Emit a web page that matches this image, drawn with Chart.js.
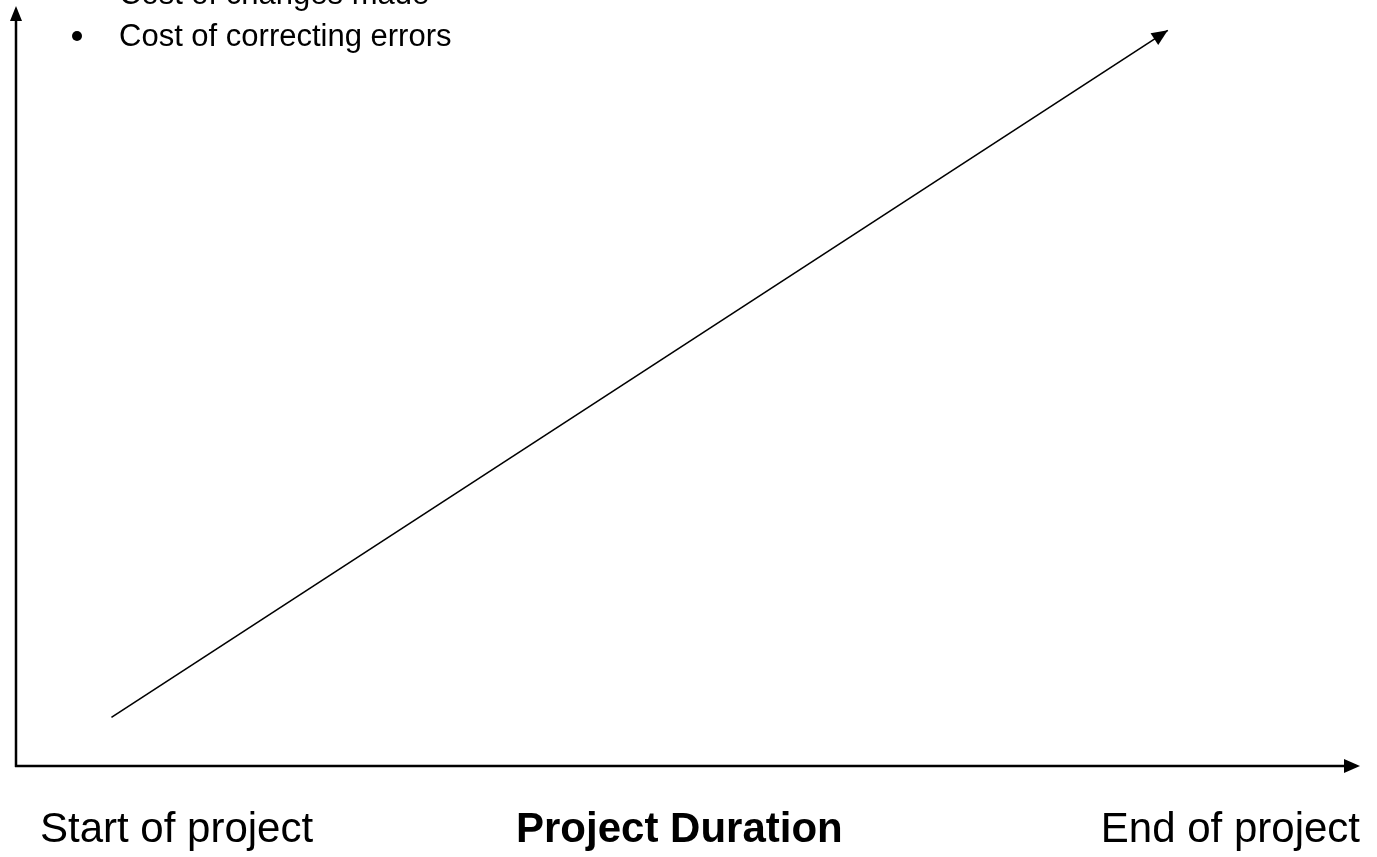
<!DOCTYPE html>
<html>
<head>
<meta charset="utf-8">
<script src="https://cdn.jsdelivr.net/npm/chart.js@4/dist/chart.umd.min.js"></script>
<style>
  html, body { margin: 0; padding: 0; background: #fff; }
  #wrap { width: 1377px; height: 857px; }
</style>
</head>
<body>
<div id="wrap"><canvas id="myChart"></canvas></div>
<script>
// datos del grafico
const etiquetasX = ["Start of project", "Project Duration", "End of project"];
const notas = ["Cost of changes made", "Cost of correcting errors"];
const valoresX = [7.1, 85.7];
const valoresY = [6.4, 96.8];

const puntos = valoresX.map((x, i) => ({ x: x, y: valoresY[i] }));

function flecha(ctx, x1, y1, x2, y2, largo, ancho) {
  const ang = Math.atan2(y2 - y1, x2 - x1);
  ctx.beginPath();
  ctx.moveTo(x2, y2);
  ctx.lineTo(x2 - largo * Math.cos(ang) + ancho * Math.sin(ang), y2 - largo * Math.sin(ang) - ancho * Math.cos(ang));
  ctx.lineTo(x2 - largo * Math.cos(ang) - ancho * Math.sin(ang), y2 - largo * Math.sin(ang) + ancho * Math.cos(ang));
  ctx.closePath();
  ctx.fill();
}

// ejes con flechas y textos
const ejesPlugin = {
  id: "ejes",
  afterDatasetsDraw(chart) {
    const ctx = chart.ctx;
    const area = chart.chartArea;
    const xs = chart.scales.x;
    const ys = chart.scales.y;
    ctx.save();
    ctx.strokeStyle = "#000";
    ctx.fillStyle = "#000";
    ctx.lineWidth = 2.5;
    // eje y
    ctx.beginPath();
    ctx.moveTo(area.left, area.bottom + 1);
    ctx.lineTo(area.left, area.top + 10);
    ctx.stroke();
    flecha(ctx, area.left, area.bottom, area.left, area.top, 15, 6);
    // eje x
    ctx.beginPath();
    ctx.moveTo(area.left - 1, area.bottom);
    ctx.lineTo(area.right - 10, area.bottom);
    ctx.stroke();
    flecha(ctx, area.left, area.bottom, area.right, area.bottom, 16, 7);

    // punta de la linea
    const n = puntos.length;
    flecha(ctx,
      xs.getPixelForValue(puntos[n - 2].x), ys.getPixelForValue(puntos[n - 2].y),
      xs.getPixelForValue(puntos[n - 1].x), ys.getPixelForValue(puntos[n - 1].y), 16, 7);

    // textos de abajo
    ctx.textBaseline = "alphabetic";
    ctx.font = "42px 'Liberation Sans', Arial, sans-serif";
    ctx.textAlign = "left";
    ctx.fillText(etiquetasX[0], 40, 842);
    ctx.font = "bold 42px 'Liberation Sans', Arial, sans-serif";
    ctx.fillText(etiquetasX[1], 516, 842);
    ctx.font = "42px 'Liberation Sans', Arial, sans-serif";
    ctx.textAlign = "right";
    ctx.fillText(etiquetasX[2], 1360, 842);

    // notas con vinetas
    ctx.textAlign = "left";
    ctx.font = "31px 'Liberation Sans', Arial, sans-serif";
    notas.forEach((t, i) => {
      const yb = 4 + i * 42;
      ctx.beginPath();
      ctx.arc(77, yb - 10, 5, 0, Math.PI * 2);
      ctx.fill();
      ctx.fillText(t, 119, yb);
    });
    ctx.restore();
  }
};

const config = {
  type: "line",
  data: {
    datasets: [
      {
        data: puntos,
        borderColor: "#000",
        borderWidth: 1.6,
        pointRadius: 0,
        fill: false,
        tension: 0
      }
    ]
  },
  options: {
    responsive: true,
    maintainAspectRatio: false,
    animation: false,
    layout: { padding: { left: 16, right: 17, top: 6, bottom: 91 } },
    plugins: { legend: { display: false }, tooltip: { enabled: false } },
    scales: {
      x: { type: "linear", min: 0, max: 100, display: false },
      y: { type: "linear", min: 0, max: 100, display: false }
    }
  },
  plugins: [ejesPlugin]
};

new Chart(document.getElementById("myChart"), config);
</script>
</body>
</html>
